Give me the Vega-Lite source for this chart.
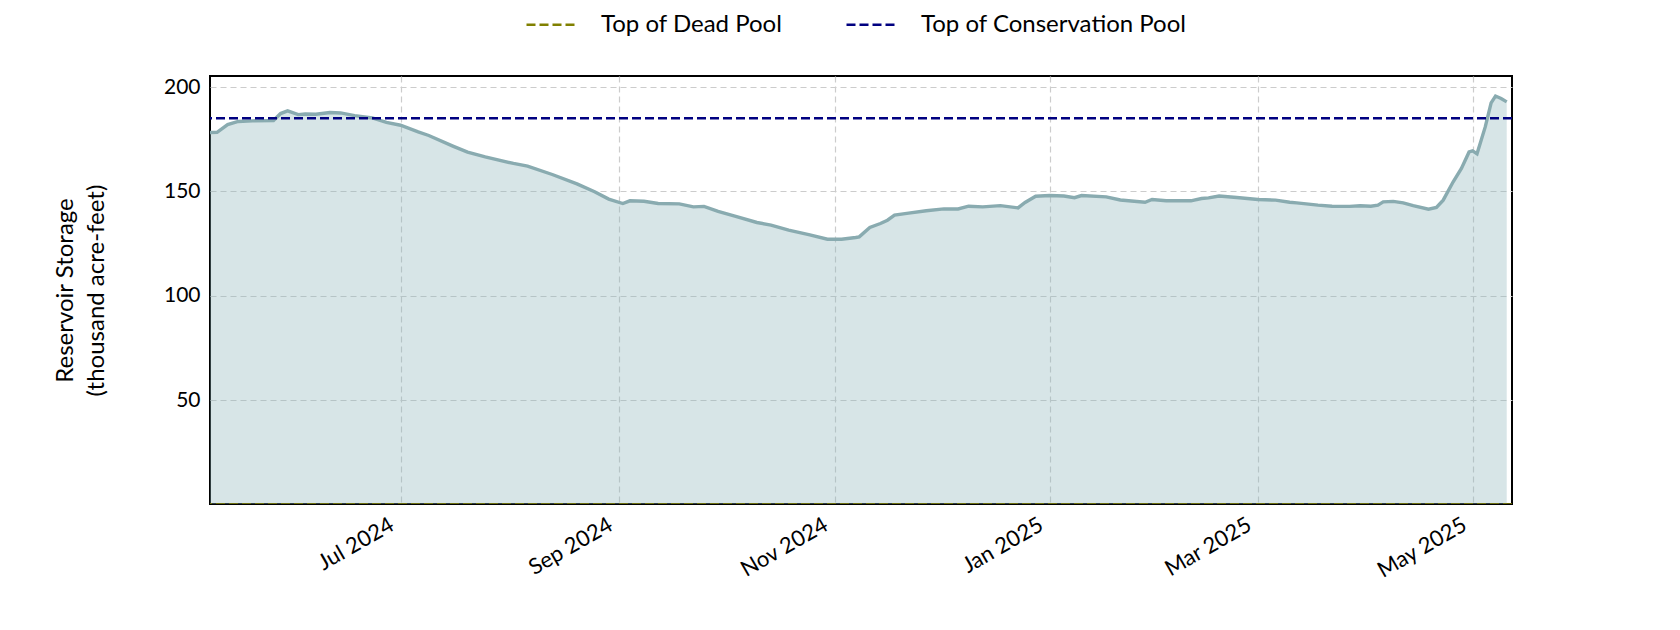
{
  "$schema": "https://vega.github.io/schema/vega-lite/v6.json",
  "width": 1302,
  "height": 428,
  "autosize": {"type": "none"},
  "padding": {"left": 210, "top": 76, "right": 168, "bottom": 126},
  "background": "white",
  "config": {
    "font": "Lato",
    "view": {"stroke": "black", "strokeWidth": 2},
    "axis": {
      "domain": false,
      "ticks": false,
      "grid": true,
      "gridColor": "#cccccc",
      "gridDash": [6, 4],
      "gridWidth": 1.2,
      "labelFont": "Lato",
      "labelFontSize": 20,
      "labelColor": "black",
      "titleFont": "Lato",
      "titleColor": "black"
    },
    "legend": {"labelFont": "Lato"}
  },
  "datasets": {
    "storage": [
      {"date": "2024-05-08", "value": 178.2},
      {"date": "2024-05-10", "value": 178.3},
      {"date": "2024-05-13", "value": 182.0},
      {"date": "2024-05-16", "value": 183.5},
      {"date": "2024-05-20", "value": 183.8},
      {"date": "2024-05-26", "value": 184.0},
      {"date": "2024-05-28", "value": 187.3},
      {"date": "2024-05-30", "value": 188.6},
      {"date": "2024-06-02", "value": 186.8},
      {"date": "2024-06-04", "value": 187.1},
      {"date": "2024-06-07", "value": 187.0},
      {"date": "2024-06-11", "value": 187.8},
      {"date": "2024-06-14", "value": 187.6},
      {"date": "2024-06-18", "value": 186.3},
      {"date": "2024-06-23", "value": 185.2},
      {"date": "2024-06-27", "value": 183.1},
      {"date": "2024-07-01", "value": 181.7},
      {"date": "2024-07-06", "value": 178.5},
      {"date": "2024-07-09", "value": 176.8},
      {"date": "2024-07-16", "value": 171.6},
      {"date": "2024-07-20", "value": 168.8},
      {"date": "2024-07-25", "value": 166.5},
      {"date": "2024-08-02", "value": 163.4},
      {"date": "2024-08-06", "value": 162.1},
      {"date": "2024-08-13", "value": 158.1},
      {"date": "2024-08-20", "value": 153.6},
      {"date": "2024-08-25", "value": 149.8},
      {"date": "2024-08-29", "value": 146.3},
      {"date": "2024-09-02", "value": 144.2},
      {"date": "2024-09-04", "value": 145.5},
      {"date": "2024-09-08", "value": 145.3},
      {"date": "2024-09-12", "value": 144.2},
      {"date": "2024-09-18", "value": 144.0},
      {"date": "2024-09-22", "value": 142.6},
      {"date": "2024-09-25", "value": 142.8},
      {"date": "2024-09-29", "value": 140.4},
      {"date": "2024-10-04", "value": 138.0},
      {"date": "2024-10-10", "value": 135.1},
      {"date": "2024-10-14", "value": 133.8},
      {"date": "2024-10-19", "value": 131.4},
      {"date": "2024-10-25", "value": 129.2},
      {"date": "2024-10-30", "value": 127.1},
      {"date": "2024-11-03", "value": 127.1},
      {"date": "2024-11-07", "value": 127.9},
      {"date": "2024-11-08", "value": 128.2},
      {"date": "2024-11-11", "value": 132.7},
      {"date": "2024-11-14", "value": 134.6},
      {"date": "2024-11-16", "value": 136.2},
      {"date": "2024-11-18", "value": 138.6},
      {"date": "2024-11-22", "value": 139.6},
      {"date": "2024-11-27", "value": 140.7},
      {"date": "2024-12-02", "value": 141.6},
      {"date": "2024-12-06", "value": 141.6},
      {"date": "2024-12-09", "value": 142.9},
      {"date": "2024-12-13", "value": 142.6},
      {"date": "2024-12-18", "value": 143.2},
      {"date": "2024-12-23", "value": 142.1},
      {"date": "2024-12-25", "value": 144.7},
      {"date": "2024-12-28", "value": 147.7},
      {"date": "2025-01-01", "value": 148.0},
      {"date": "2025-01-05", "value": 147.8},
      {"date": "2025-01-08", "value": 147.0},
      {"date": "2025-01-10", "value": 148.0},
      {"date": "2025-01-17", "value": 147.4},
      {"date": "2025-01-21", "value": 145.9},
      {"date": "2025-01-28", "value": 144.8},
      {"date": "2025-01-30", "value": 146.1},
      {"date": "2025-02-03", "value": 145.5},
      {"date": "2025-02-10", "value": 145.5},
      {"date": "2025-02-13", "value": 146.6},
      {"date": "2025-02-15", "value": 146.9},
      {"date": "2025-02-18", "value": 147.8},
      {"date": "2025-02-23", "value": 147.1},
      {"date": "2025-03-01", "value": 146.1},
      {"date": "2025-03-06", "value": 145.8},
      {"date": "2025-03-10", "value": 144.8},
      {"date": "2025-03-12", "value": 144.5},
      {"date": "2025-03-18", "value": 143.4},
      {"date": "2025-03-22", "value": 142.9},
      {"date": "2025-03-27", "value": 142.8},
      {"date": "2025-03-30", "value": 143.1},
      {"date": "2025-04-02", "value": 142.9},
      {"date": "2025-04-04", "value": 143.4},
      {"date": "2025-04-05T12:00:00Z", "value": 145.0},
      {"date": "2025-04-08T08:00:00Z", "value": 145.2},
      {"date": "2025-04-11T04:00:00Z", "value": 144.5},
      {"date": "2025-04-14", "value": 143.2},
      {"date": "2025-04-18T08:00:00Z", "value": 141.5},
      {"date": "2025-04-20T14:00:00Z", "value": 142.3},
      {"date": "2025-04-22T12:00:00Z", "value": 145.8},
      {"date": "2025-04-25T08:00:00Z", "value": 154.6},
      {"date": "2025-04-27T16:00:00Z", "value": 161.0},
      {"date": "2025-04-29T20:00:00Z", "value": 168.9},
      {"date": "2025-04-30T20:00:00Z", "value": 169.4},
      {"date": "2025-05-02T02:00:00Z", "value": 168.0},
      {"date": "2025-05-04T10:00:00Z", "value": 180.9},
      {"date": "2025-05-06T02:00:00Z", "value": 192.4},
      {"date": "2025-05-07T08:00:00Z", "value": 195.7},
      {"date": "2025-05-08T22:00:00Z", "value": 194.5},
      {"date": "2025-05-10T12:00:00Z", "value": 192.9}
    ],
    "pools": [
      {"label": "Top of Dead Pool", "value": 0},
      {"label": "Top of Conservation Pool", "value": 185}
    ]
  },
  "layer": [
    {
      "data": {"name": "storage"},
      "mark": {"type": "area", "color": "#8db5bb", "opacity": 0.35, "clip": true},
      "encoding": {
        "x": {
          "field": "date",
          "type": "temporal",
          "scale": {
            "type": "utc",
            "domain": [
              {"year": 2024, "month": 5, "date": 8, "utc": true},
              {"year": 2025, "month": 5, "date": 12, "utc": true}
            ]
          },
          "axis": {
            "title": null,
            "values": [
              {"year": 2024, "month": 7, "date": 1, "utc": true},
              {"year": 2024, "month": 9, "date": 1, "utc": true},
              {"year": 2024, "month": 11, "date": 1, "utc": true},
              {"year": 2025, "month": 1, "date": 1, "utc": true},
              {"year": 2025, "month": 3, "date": 1, "utc": true},
              {"year": 2025, "month": 5, "date": 1, "utc": true}
            ],
            "format": "%b %Y",
            "labelFontSize": 22,
            "labelAngle": -30,
            "labelAlign": "right",
            "labelBaseline": "top",
            "labelPadding": 10,
            "labelOffset": -14
          }
        },
        "y": {
          "field": "value",
          "type": "quantitative",
          "scale": {"domain": [0.2, 205.3], "nice": false, "zero": false},
          "axis": {
            "values": [50, 100, 150, 200],
            "labelPadding": 10,
            "labelFontSize": 21,
            "title": ["Reservoir Storage", "(thousand acre-feet)"],
            "titleFontSize": 24,
            "titleFontWeight": "normal",
            "titleLineHeight": 31,
            "titleX": -145,
            "titleY": 214,
            "titleAngle": -90,
            "titleAlign": "center",
            "titleBaseline": "middle"
          }
        }
      }
    },
    {
      "data": {"name": "storage"},
      "mark": {"type": "line", "color": "#89abb0", "strokeWidth": 3.4, "clip": true},
      "encoding": {
        "x": {"field": "date", "type": "temporal"},
        "y": {"field": "value", "type": "quantitative"}
      }
    },
    {
      "data": {"name": "pools"},
      "mark": {"type": "rule", "strokeWidth": 2.5, "strokeDash": [9, 4], "clip": true},
      "encoding": {
        "y": {"field": "value", "type": "quantitative"},
        "color": {
          "field": "label",
          "type": "nominal",
          "scale": {
            "domain": ["Top of Dead Pool", "Top of Conservation Pool"],
            "range": ["#808000", "#000080"]
          },
          "legend": {
            "title": null,
            "orient": "none",
            "legendX": 315,
            "legendY": -79,
            "direction": "horizontal",
            "symbolType": "stroke",
            "symbolSize": 2704,
            "symbolStrokeWidth": 2.5,
            "symbolDash": [9, 4],
            "labelFontSize": 24,
            "labelLimit": 0,
            "labelOffset": 21,
            "labelColor": "black",
            "columnPadding": 58
          }
        }
      }
    }
  ]
}
